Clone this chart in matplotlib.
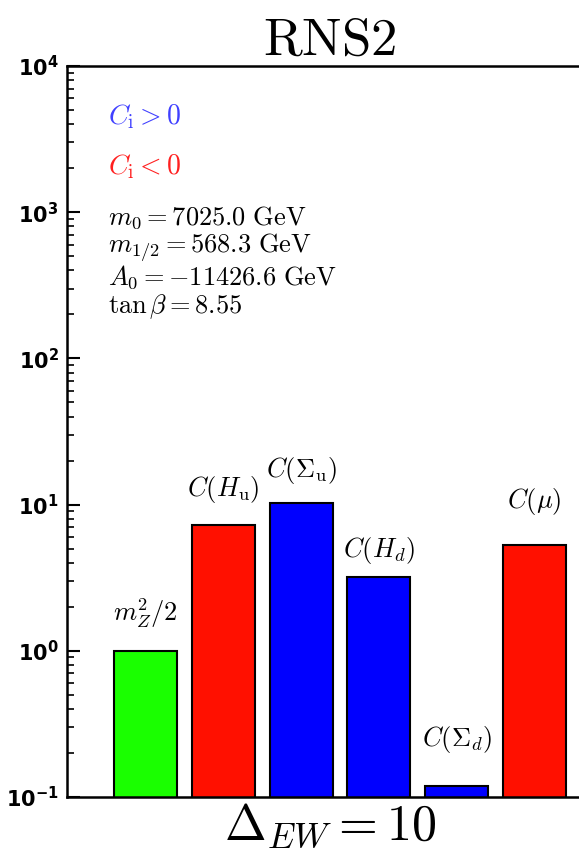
import matplotlib
matplotlib.use("Agg")
import matplotlib.pyplot as plt
from matplotlib.ticker import LogLocator, NullFormatter

plt.rcParams['mathtext.fontset'] = 'cm'
plt.rcParams['font.family'] = 'DejaVu Serif'

labels = [r'$m_Z^2/2$', r'$C(H_{\rm u})$', r'$C(\Sigma_{\rm u})$', r'$C(H_d)$', r'$C(\Sigma_d)$', r'$C(\mu)$']
values = [1.0, 7.2, 10.3, 3.2, 0.118, 5.3]
signs = ['zero', 'neg', 'pos', 'pos', 'pos', 'neg']
params = [r'$m_0 = 7025.0\ \mathrm{GeV}$',
          r'$m_{1/2} = 568.3\ \mathrm{GeV}$',
          r'$A_0 = -11426.6\ \mathrm{GeV}$',
          r'$\tan\beta = 8.55$']
delta_ew = 10
title = 'RNS2'
ytick_vals = [0.1, 1, 10, 100, 1000, 10000]
ytick_labels = [r'$\mathbf{10^{-1}}$', r'$\mathbf{10^{0}}$', r'$\mathbf{10^{1}}$',
                r'$\mathbf{10^{2}}$', r'$\mathbf{10^{3}}$', r'$\mathbf{10^{4}}$']

color_map = {'zero': '#1aff00', 'neg': '#ff1000', 'pos': '#0000ff'}
label_offsets = [27, 26, 23, 19, 34, 31.5]  # points above bar top (label centre)

W, H = 579, 852
fig = plt.figure(figsize=(W / 100, H / 100), dpi=100)
ax = fig.add_axes([67 / W, 1 - 797 / H, 1 - 67 / W, (797 - 66) / H])

x = list(range(len(values)))
ax.bar(x, values, width=0.81, bottom=0, color=[color_map[s] for s in signs],
       edgecolor='black', linewidth=1.5, zorder=2)
ax.set_yscale('log')
ax.set_ylim(0.1, 1e4)
ax.set_xlim(-1.009, 5.572)

for xi, v, lab, off in zip(x, values, labels, label_offsets):
    ax.annotate(lab, (xi, v), xytext=(0, off), textcoords='offset points',
                ha='center', va='center', fontsize=19)

ax.set_xticks([])
ax.yaxis.set_minor_locator(LogLocator(base=10, subs=range(2, 10), numticks=100))
ax.yaxis.set_minor_formatter(NullFormatter())
ax.set_yticks(ytick_vals)
ax.set_yticklabels(ytick_labels)
for t in ax.get_yticklabels():
    t.set_math_fontfamily('dejavusans')
    t.set_fontsize(15)
ax.tick_params(axis='y', which='major', direction='in', length=9, width=1.5, pad=6)
ax.tick_params(axis='y', which='minor', direction='in', length=5, width=1.2)

for s in ['left', 'top', 'bottom']:
    ax.spines[s].set_linewidth(1.8)
ax.spines['right'].set_visible(False)

fig.text(330 / W, 1 - 40 / H, r'$\mathrm{' + title + '}$', fontsize=38, ha='center', va='center')
fig.text(330 / W, 1 - 826 / H, r'$\Delta_{EW} = ' + str(delta_ew) + '$', fontsize=36,
         ha='center', va='center')

fig.text(108 / W, 1 - 117 / H, r'$C_{\rm i} > 0$', color='#4040ff', fontsize=20, va='center')
fig.text(108 / W, 1 - 167 / H, r'$C_{\rm i} < 0$', color='#ff2020', fontsize=20, va='center')

for i, p in enumerate(params):
    fig.text(108 / W, 1 - (218 + i * 29.7) / H, p, fontsize=19, va='center', ha='left')

fig.savefig('out.png', dpi=100)
